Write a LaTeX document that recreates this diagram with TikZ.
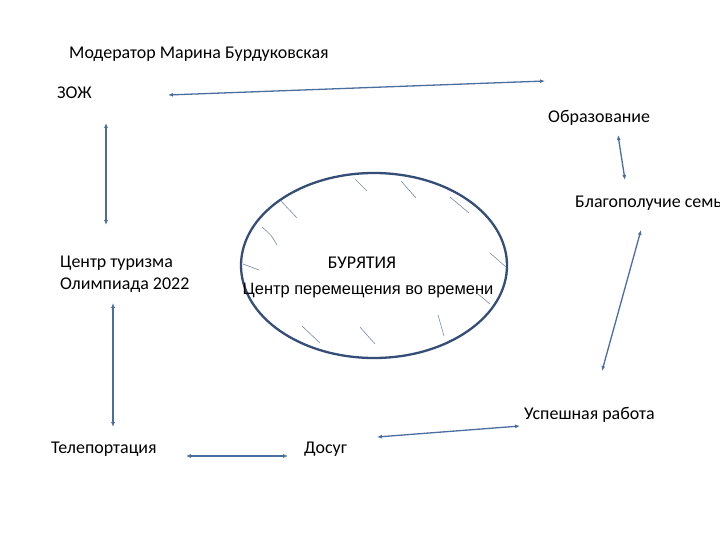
\documentclass[tikz,border=0pt]{standalone}
\usepackage{fontspec}
\setmainfont{Carlito}
\newfontfamily\arialf{Liberation Sans}
\usetikzlibrary{arrows.meta,shapes.geometric}
\definecolor{arrowc}{RGB}{74,110,160}
\definecolor{ellc}{RGB}{52,78,120}
\definecolor{hatchc}{RGB}{120,138,165}
\begin{document}
\begin{tikzpicture}[x=1bp,y=-1bp,
  lbl/.style={anchor=west,inner sep=0pt,font=\fontsize{18}{22}\selectfont},
  conn/.style={draw=arrowc,line width=1.3bp,{Latex[length=5bp,width=4bp]}-{Latex[length=5bp,width=4bp]}},
  hatch/.style={draw=hatchc,line width=0.6bp}]
\useasboundingbox (0,0) rectangle (720,540);
\fill[white] (0,0) rectangle (720,540);
% labels
\node[lbl] (mod) at (69,54) {Модератор Марина Бурдуковская};
\node[lbl] (zoj) at (57,93) {ЗОЖ};
\node[lbl] (obr) at (548,118) {Образование};
\node[lbl] (blago) at (575,203) {Благополучие семьи};
\node[lbl,align=left] (ct) at (60,274) {Центр туризма\\Олимпиада 2022};
\node[lbl] (usp) at (524,415) {Успешная работа};
\node[lbl] (dos) at (304,449) {Досуг};
\node[lbl] (tel) at (51,449) {Телепортация};
% ellipse
\node[ellipse,draw=ellc,line width=2.3bp,minimum width=266bp,minimum height=185bp,inner sep=0pt] (bur) at (374,265.5) {};
\node[lbl,anchor=center] (burt) at (362,263) {БУРЯТИЯ};
\node[anchor=center,inner sep=0pt,font=\arialf\fontsize{16.5}{19}\selectfont] (cpv) at (368,291) {Центр перемещения во времени};
% hatch marks
\draw[hatch] (355,179) -- (367,191);
\draw[hatch] (401,181) -- (416,198);
\draw[hatch] (450,197) -- (469,213);
\draw[hatch] (281,201) -- (297,218);
\draw[hatch] (262,227) .. controls (272,236) .. (277,245);
\draw[hatch] (243,264) -- (259,270);
\draw[hatch] (490,253) -- (506,267);
\draw[hatch] (478,294) -- (490,304);
\draw[hatch] (438,315) -- (444,336);
\draw[hatch] (360,327) -- (375,344);
\draw[hatch] (302,326) -- (320,343);
% connector end points
\coordinate (a1) at (168,95);
\coordinate (a2) at (545,81);
\coordinate (b1) at (618,135);
\coordinate (b2) at (625,180);
\coordinate (c1) at (641,230);
\coordinate (c2) at (602,371);
\coordinate (d1) at (520,426);
\coordinate (d2) at (377,437);
\coordinate (e1) at (288,456);
\coordinate (e2) at (186,456);
\coordinate (f1) at (113,427);
\coordinate (f2) at (113,303);
\coordinate (g1) at (106,225);
\coordinate (g2) at (106,123);
% connectors
\draw[conn] (a1) -- (a2);
\draw[conn] (b1) -- (b2);
\draw[conn] (c1) -- (c2);
\draw[conn] (d1) -- (d2);
\draw[conn] (e1) -- (e2);
\draw[conn] (f1) -- (f2);
\draw[conn] (g1) -- (g2);
\end{tikzpicture}
\end{document}
